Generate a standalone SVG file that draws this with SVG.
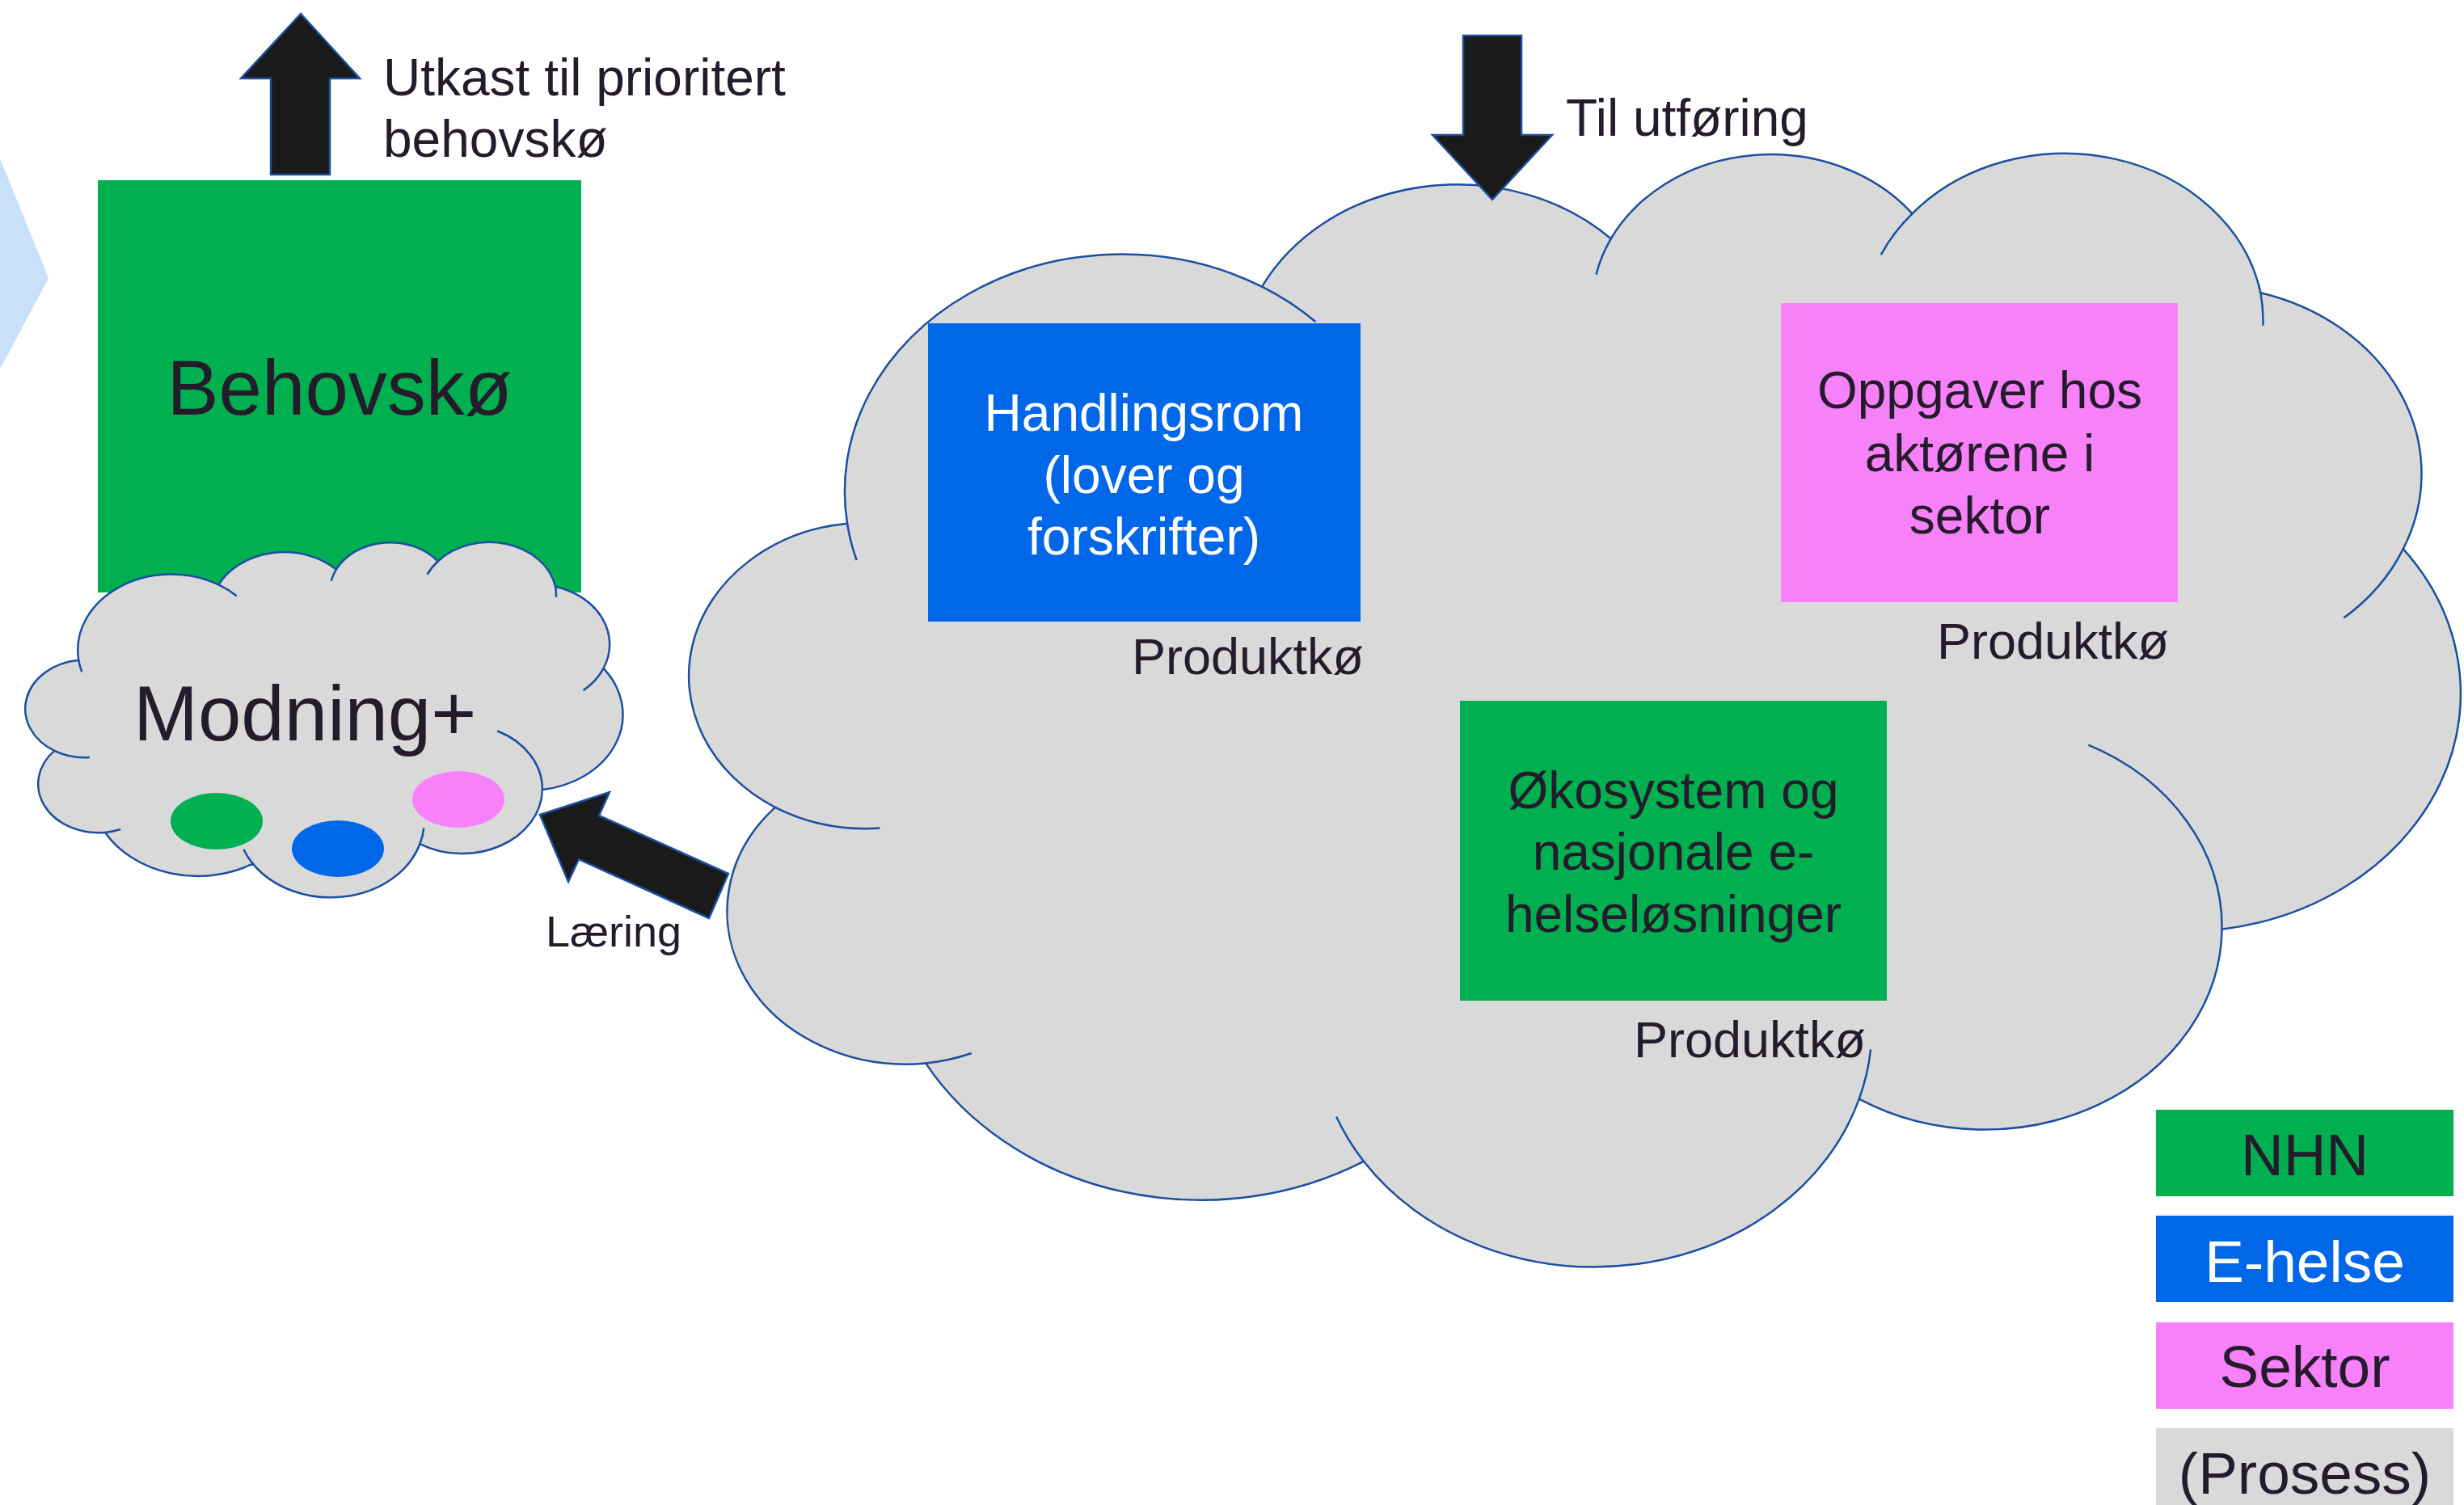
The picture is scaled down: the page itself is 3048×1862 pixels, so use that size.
<svg xmlns="http://www.w3.org/2000/svg" xmlns:xlink="http://www.w3.org/1999/xlink" width="3048" height="1862" viewBox="0 0 3048 1862">
  <style>
    .txt { font-family: "Liberation Sans", Arial, sans-serif; fill: #241B2B; }
    .white { fill: #FFFFFF; }
    .mid { text-anchor: middle; }
    .cloud-fill { fill: #D9D9D9; stroke: #1B4FA0; stroke-width: 2.5; vector-effect: non-scaling-stroke; }
    .cloud-line { fill: none; stroke: #1B4FA0; stroke-width: 2.5; vector-effect: non-scaling-stroke; }
    .block-arrow { fill: #1A1A1A; stroke: #1B4FA0; stroke-width: 2.5; stroke-linejoin: miter; }
    .green { fill: #00AF50; }
    .blue { fill: #0068E8; }
    .pink { fill: #F781F9; }
    .grey { fill: #D9D9D9; }
  </style>
  <defs>
    <!-- cloud shape in a 43200 x 43200 box -->
    <path id="cloud-outline" class="cloud-fill" d="M3900,14370 A6753,9190 0 0 1 14000,5192 A5333,7267 0 0 1 22500,3330 A4365,5945 0 0 1 29840,2360 A4857,6595 0 0 1 38324,5426 A5333,7273 0 0 1 41798,15354 A6775,9220 0 0 1 37383,30095 A5785,7867 0 0 1 28545,36675 A6752,9215 0 0 1 16478,39090 A7720,10543 0 0 1 5810,35288 A4360,5918 0 0 1 2144,25370 A4345,5945 0 0 1 3900,14370 Z"/>
    <path id="cloud-inner" class="cloud-line" d="M4693,26177 A4345,5945 0 0 1 2144,25370 M6928,34899 A4360,5918 0 0 1 5810,35288 M16478,39090 A6752,9215 0 0 1 15813,37360 M28827,34751 A6752,9215 0 0 1 28545,36675 M34129,22954 A5785,7867 0 0 1 37383,30095 M41798,15354 A5333,7273 0 0 1 40350,18031 M38324,5426 A4857,6595 0 0 1 38381,6701 M29078,3952 A4857,6595 0 0 1 29840,2360 M22141,4720 A4365,5945 0 0 1 22500,3330 M14000,5192 A6753,9190 0 0 1 15305,6550 M4127,15789 A6753,9190 0 0 1 3900,14370"/>
  </defs>

  <rect width="3048" height="1862" fill="#FFFFFF"/>

  <!-- process chevron at the left edge -->
  <polygon points="0,196 60,344 0,457" fill="#C9E0FB"/>

  <!-- large process cloud -->
  <g id="process-cloud" transform="translate(850,189) scale(0.050787,0.031921)">
    <use xlink:href="#cloud-outline"/>
    <use xlink:href="#cloud-inner"/>
  </g>

  <!-- needs queue -->
  <g id="behovsko">
    <rect class="green" x="121" y="223" width="598" height="510"/>
    <text class="txt mid" x="420" y="513" font-size="96">Behovskø</text>
  </g>

  <!-- maturing cloud -->
  <g id="modning">
    <g transform="translate(30.5,670.5) scale(0.017130,0.010185)">
      <use xlink:href="#cloud-outline"/>
      <use xlink:href="#cloud-inner"/>
    </g>
    <text class="txt" x="165" y="916" font-size="96">Modning+</text>
    <ellipse class="green" cx="268" cy="1016" rx="57" ry="35"/>
    <ellipse class="blue" cx="418" cy="1050" rx="57" ry="35"/>
    <ellipse class="pink" cx="567" cy="989" rx="57" ry="35"/>
  </g>

  <g id="handlingsrom">
    <rect class="blue" x="1148" y="400" width="535" height="369"/>
    <text class="txt white mid" font-size="64"><tspan x="1415" y="533">Handlingsrom</tspan><tspan x="1415" y="610">(lover og</tspan><tspan x="1415" y="686">forskrifter)</tspan></text>
    <text class="txt" x="1400" y="834" font-size="63">Produktkø</text>
  </g>

  <g id="oppgaver">
    <rect class="pink" x="2203" y="375" width="491" height="370"/>
    <text class="txt mid" font-size="64"><tspan x="2449" y="505">Oppgaver hos</tspan><tspan x="2449" y="583">aktørene i</tspan><tspan x="2449" y="660">sektor</tspan></text>
    <text class="txt" x="2396" y="815" font-size="63">Produktkø</text>
  </g>

  <g id="okosystem">
    <rect class="green" x="1806" y="867" width="528" height="371"/>
    <text class="txt mid" font-size="64"><tspan x="2070" y="1000">Økosystem og</tspan><tspan x="2070" y="1076">nasjonale e-</tspan><tspan x="2070" y="1153">helseløsninger</tspan></text>
    <text class="txt" x="2021" y="1308" font-size="63">Produktkø</text>
  </g>

  <!-- block arrows between the stages -->
  <g id="connectors">
    <g id="arrow-utkast">
      <polygon class="block-arrow" points="372,17 445,97 408,97 408,216 335,216 335,97 298,97"/>
      <text class="txt" font-size="64"><tspan x="474" y="118">Utkast til prioritert</tspan><tspan x="474" y="194">behovskø</tspan></text>
    </g>
    <g id="arrow-utforing">
      <polygon class="block-arrow" points="1810,44 1882,44 1882,167 1920,167 1846,247 1772,167 1810,167"/>
      <text class="txt" x="1937" y="168" font-size="64">Til utføring</text>
    </g>
    <g id="arrow-laering">
      <polygon class="block-arrow" points="668,1008 754,980 741,1009 901,1081 877,1136 716,1063 703,1091"/>
      <text class="txt" x="675" y="1171" font-size="54">Læring</text>
    </g>
  </g>

  <!-- legend -->
  <g id="legend">
    <g id="legend-nhn">
      <rect class="green" x="2667" y="1373" width="368" height="107"/>
      <text class="txt mid" x="2851" y="1454" font-size="73">NHN</text>
    </g>
    <g id="legend-ehelse">
      <rect class="blue" x="2667" y="1504" width="368" height="107"/>
      <text class="txt white mid" x="2851" y="1586" font-size="73">E-helse</text>
    </g>
    <g id="legend-sektor">
      <rect class="pink" x="2667" y="1636" width="368" height="107"/>
      <text class="txt mid" x="2851" y="1716" font-size="73">Sektor</text>
    </g>
    <g id="legend-prosess">
      <rect class="grey" x="2667" y="1767" width="368" height="107"/>
      <text class="txt mid" x="2851" y="1848" font-size="73">(Prosess)</text>
    </g>
  </g>
</svg>
